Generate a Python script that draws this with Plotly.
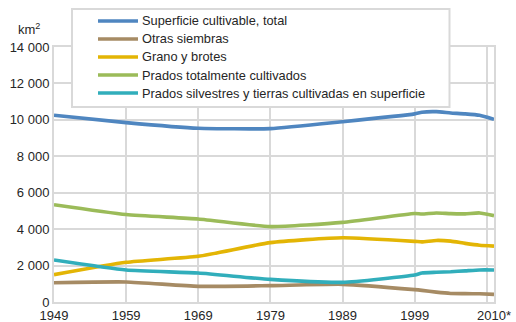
import plotly.graph_objects as go

# Years of observation (annual readings after 1999)
years = [1949, 1959, 1969, 1979, 1989, 1999, 2000, 2002, 2004, 2006, 2008, 2010]

# Areas in km²
superficie_total = [10250, 9850, 9540, 9520, 9900, 10330, 10420, 10450, 10380, 10330, 10250, 10030]
otras_siembras = [1060, 1100, 860, 900, 970, 680, 640, 540, 470, 460, 450, 420]
grano_brotes = [1500, 2180, 2510, 3260, 3530, 3330, 3300, 3380, 3340, 3220, 3120, 3070]
prados_totalmente = [5340, 4800, 4560, 4140, 4370, 4860, 4830, 4890, 4850, 4840, 4890, 4740]
prados_silvestres = [2310, 1760, 1590, 1240, 1080, 1480, 1590, 1630, 1660, 1710, 1760, 1760]

series_names = [
    "Superficie cultivable, total",
    "Otras siembras",
    "Grano y brotes",
    "Prados totalmente cultivados",
    "Prados silvestres y tierras cultivadas en superficie",
]
series_values = [superficie_total, otras_siembras, grano_brotes, prados_totalmente, prados_silvestres]
series_colors = ["#4f86c0", "#a68b64", "#e3b505", "#9bbb59", "#31aebb"]

x_tickvals = [1949, 1959, 1969, 1979, 1989, 1999, 2009, 2010]
x_ticktext = ["1949", "1959", "1969", "1979", "1989", "1999", "", "2010*"]
y_tickvals = [0, 2000, 4000, 6000, 8000, 10000, 12000, 14000]
y_ticktext = ["0", "2 000", "4 000", "6 000", "8 000", "10 000", "12 000", "14 000"]

FONT = "Liberation Sans, Arial, sans-serif"
TEXT = "#262626"
GRID = "#d9d9d9"

W, H = 516, 322
ML, MR, MT, MB = 54, 22, 47, 20
PW, PH = W - ML - MR, H - MT - MB


def px(x):
    """Pixel column -> paper x."""
    return (x - ML) / PW


def py(y):
    """Pixel row -> paper y."""
    return (H - MB - y) / PH


fig = go.Figure()
for name, values, color in zip(series_names, series_values, series_colors):
    fig.add_trace(go.Scatter(
        x=years, y=values, name=name, mode="lines", showlegend=False,
        line=dict(color=color, width=3.6, shape="spline", smoothing=0.5),
    ))

# Boxed legend drawn over the top of the plot
shapes = [dict(
    type="rect", xref="paper", yref="paper",
    x0=px(72), x1=px(449.5), y0=py(107), y1=py(9),
    fillcolor="white", line=dict(color=GRID, width=2), layer="above",
)]
annotations = []
for i, (name, color) in enumerate(zip(series_names, series_colors)):
    yc = 21 + 18 * i
    shapes.append(dict(
        type="line", xref="paper", yref="paper",
        x0=px(98), x1=px(138), y0=py(yc), y1=py(yc),
        line=dict(color=color, width=3.6), layer="above",
    ))
    annotations.append(dict(
        text=name, xref="paper", yref="paper", x=px(140), y=py(yc),
        xanchor="left", yanchor="middle", showarrow=False,
        font=dict(family=FONT, size=12.8, color=TEXT),
    ))

annotations.append(dict(
    text="km<sup>2</sup>", xref="paper", yref="paper",
    x=px(29), y=py(29), xanchor="center", yanchor="middle",
    showarrow=False, font=dict(family=FONT, size=13, color=TEXT),
))

fig.update_layout(
    width=W, height=H,
    margin=dict(l=ML, r=MR, t=MT, b=MB, autoexpand=False),
    paper_bgcolor="white", plot_bgcolor="white",
    font=dict(family=FONT, size=13, color=TEXT),
    showlegend=False,
    xaxis=dict(
        range=[1949, 2010], tickvals=x_tickvals, ticktext=x_ticktext,
        showgrid=True, gridcolor=GRID, gridwidth=2,
        showline=True, linecolor=GRID, linewidth=2, mirror=True,
        ticks="", zeroline=False,
    ),
    yaxis=dict(
        range=[0, 14000], tickvals=y_tickvals, ticktext=y_ticktext,
        showgrid=True, gridcolor=GRID, gridwidth=2,
        showline=True, linecolor=GRID, linewidth=2, mirror=True,
        ticks="", zeroline=False,
    ),
    shapes=shapes,
    annotations=annotations,
)

fig.write_html("out.html")
